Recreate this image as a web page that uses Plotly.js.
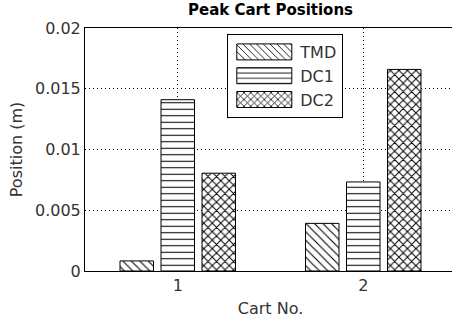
<!DOCTYPE html>
<html>
<head>
<meta charset="utf-8">
<script src="https://cdn.plot.ly/plotly-3.0.1.min.js"></script>
<style>
html, body { margin: 0; padding: 0; overflow: hidden; background: #fff; }
#chart { width: 456px; height: 325px; }
</style>
</head>
<body>
<div id="chart"></div>
<script>
// Data
const carts = [1, 2];
const cartTickLabels = ['1', '2'];
const seriesNames = ['TMD', 'DC1', 'DC2'];
const tmdValues = [0.00083, 0.00392];
const dc1Values = [0.0141, 0.00733];
const dc2Values = [0.00805, 0.01659];
const yTicks = [0, 0.005, 0.01, 0.015, 0.02];
const yTickLabels = ['0', '0.005', '0.01', '0.015', '0.02'];

const FONT = 'DejaVu Sans, Liberation Sans, Arial, sans-serif';

function barTrace(name, values, shape, size, solidity) {
  return {
    type: 'bar',
    name: name,
    x: carts,
    y: values,
    marker: {
      color: '#ffffff',
      line: { color: '#000000', width: 1 },
      pattern: { shape: shape, size: size, solidity: solidity, fgcolor: '#000000', bgcolor: '#ffffff', fillmode: 'replace' }
    },
    hoverinfo: 'skip'
  };
}

const data = [
  barTrace(seriesNames[0], tmdValues, '\\', 6, 0.18),
  barTrace(seriesNames[1], dc1Values, '-', 6.5, 0.16),
  barTrace(seriesNames[2], dc2Values, 'x', 6, 0.3)
];

const layout = {
  width: 456,
  height: 325,
  margin: { l: 85, r: 0, t: 28, b: 54, pad: 0 },
  paper_bgcolor: '#ffffff',
  plot_bgcolor: '#ffffff',
  font: { family: FONT, size: 16, color: '#333333' },
  title: {
    text: 'Peak Cart Positions',
    font: { family: FONT, size: 15, color: '#000000', weight: 'bold' },
    x: 0.5, xref: 'paper', xanchor: 'center',
    y: 1 - 10 / 325, yref: 'container', yanchor: 'middle'
  },
  barmode: 'group',
  bargap: 0.337,
  bargroupgap: 0.183,
  showlegend: true,
  legend: {
    x: (227.3 - 85) / 371, y: (271 - 34) / 243,
    xanchor: 'left', yanchor: 'top',
    xref: 'paper', yref: 'paper',
    bgcolor: '#ffffff',
    bordercolor: '#000000',
    borderwidth: 1,
    itemwidth: 62,
    traceorder: 'normal',
    font: { family: FONT, size: 16, color: '#333333' }
  },
  xaxis: {
    range: [0.5, 2.5],
    tickmode: 'array',
    tickvals: carts,
    ticktext: cartTickLabels,
    showline: true, linecolor: '#000000', linewidth: 1, mirror: true,
    showgrid: true, gridcolor: '#000000', gridwidth: 1, griddash: '1px,3px',
    zeroline: false,
    ticks: '',
    fixedrange: true,
    title: { text: 'Cart No.', font: { family: FONT, size: 16, color: '#333333' }, standoff: 8 }
  },
  yaxis: {
    range: [0, 0.02],
    tickmode: 'array',
    tickvals: yTicks,
    ticktext: yTickLabels,
    showline: true, linecolor: '#000000', linewidth: 1, mirror: true,
    showgrid: true, gridcolor: '#000000', gridwidth: 1, griddash: '1px,3px',
    zeroline: false,
    ticks: '',
    fixedrange: true,
    title: { text: 'Position (m)', font: { family: FONT, size: 16, color: '#333333' }, standoff: 8 }
  }
};

Plotly.newPlot('chart', data, layout, { displayModeBar: false, staticPlot: true }).then(function (gd) {
  // widen legend swatches to match the reference's long pattern samples
  gd.querySelectorAll('.legend .legendpoints path').forEach(function (p) {
    p.setAttribute('d', 'M27.5,8H-27.5V-8H27.5Z');
  });
});
</script>
</body>
</html>
